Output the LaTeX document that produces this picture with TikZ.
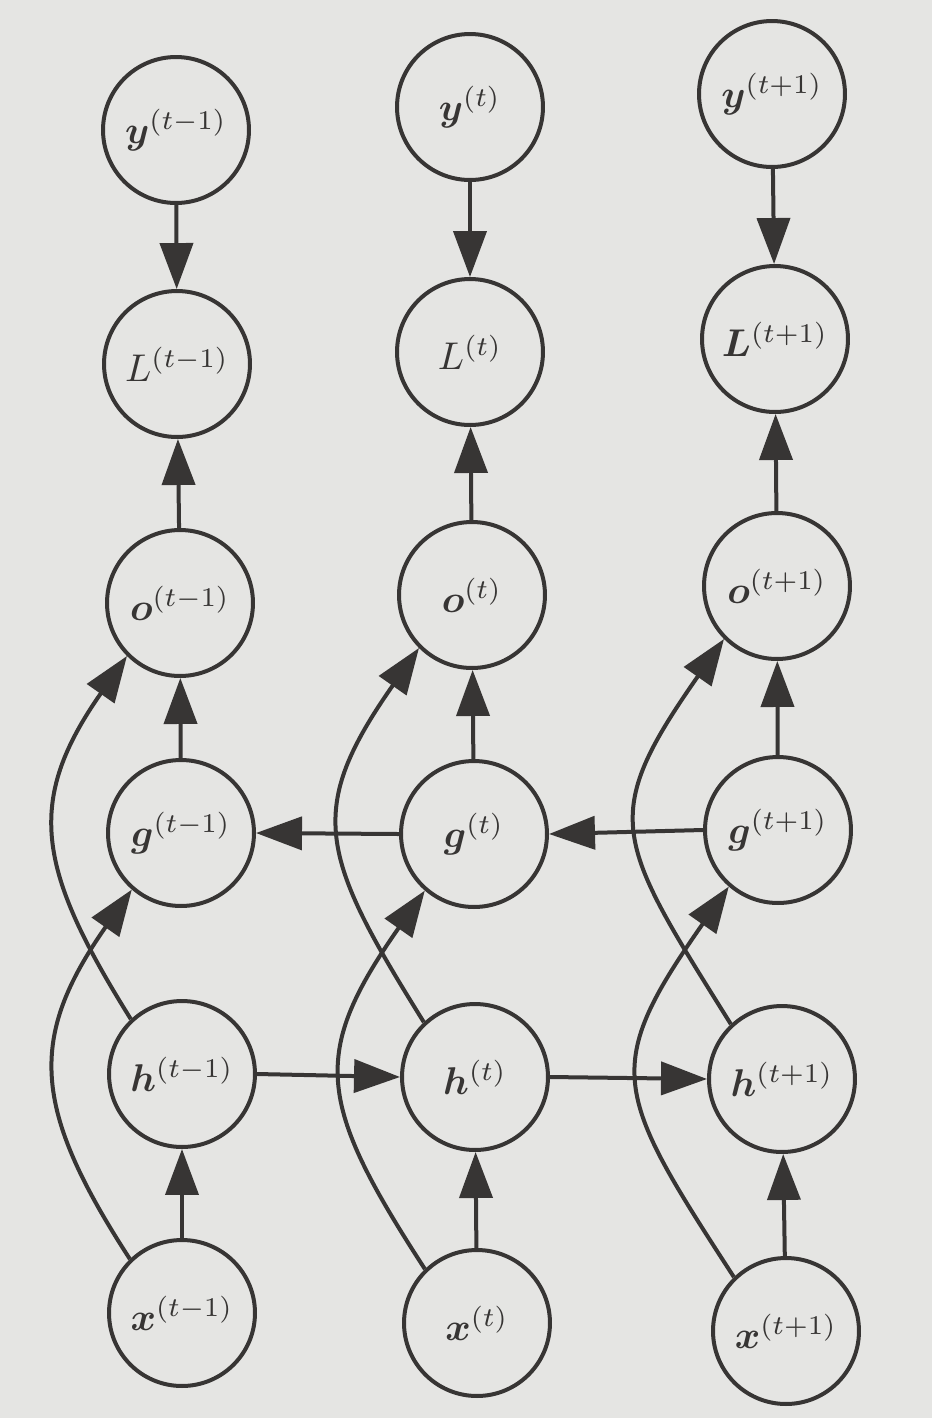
\documentclass[tikz,border=0pt]{standalone}
\usepackage{graphicx}
\usepackage{amsmath,bm}
\usetikzlibrary{arrows.meta}
\definecolor{ink}{RGB}{55,53,52}
\definecolor{paper}{RGB}{229,229,227}
\newcommand\lbl[1]{\scalebox{2.2}{$#1$}}
\begin{document}
\begin{tikzpicture}[x=0.02cm,y=0.02cm,
  unit/.style={circle,draw=ink,line width=0.08cm,minimum size=2.92cm,inner sep=0pt,text=ink},
  conn/.style={draw=ink,line width=0.08cm,-{Triangle[length=0.92cm,width=0.66cm]}}]
\fill[paper] (0,0) rectangle (932,-1418);
\useasboundingbox (0,0) rectangle (932,-1418);
% column t-1
\node[unit] (y1) at (176,-130) {\lbl{\bm{y}^{(t-1)}}};
\node[unit] (L1) at (177,-364) {\lbl{L^{(t-1)}}};
\node[unit] (o1) at (180,-603) {\lbl{\bm{o}^{(t-1)}}};
\node[unit] (g1) at (181,-833) {\lbl{\bm{g}^{(t-1)}}};
\node[unit] (h1) at (182,-1074) {\lbl{\bm{h}^{(t-1)}}};
\node[unit] (x1) at (182,-1313) {\lbl{\bm{x}^{(t-1)}}};
% column t
\node[unit] (y2) at (470,-107) {\lbl{\bm{y}^{(t)}}};
\node[unit] (L2) at (470,-352) {\lbl{L^{(t)}}};
\node[unit] (o2) at (472,-595) {\lbl{\bm{o}^{(t)}}};
\node[unit] (g2) at (474,-834) {\lbl{\bm{g}^{(t)}}};
\node[unit] (h2) at (475,-1077) {\lbl{\bm{h}^{(t)}}};
\node[unit] (x2) at (477,-1323) {\lbl{\bm{x}^{(t)}}};
% column t+1
\node[unit] (y3) at (772,-94) {\lbl{\bm{y}^{(t+1)}}};
\node[unit] (L3) at (775,-339) {\lbl{\bm{L}^{(t+1)}}};
\node[unit] (o3) at (777,-586) {\lbl{\bm{o}^{(t+1)}}};
\node[unit] (g3) at (778,-830) {\lbl{\bm{g}^{(t+1)}}};
\node[unit] (h3) at (782,-1079) {\lbl{\bm{h}^{(t+1)}}};
\node[unit] (x3) at (786,-1331) {\lbl{\bm{x}^{(t+1)}}};
% vertical arrows
\foreach \i in {1,2,3}{
  \draw[conn] (y\i) -- (L\i);
  \draw[conn] (o\i) -- (L\i);
  \draw[conn] (g\i) -- (o\i);
  \draw[conn] (x\i) -- (h\i);
}
% horizontal arrows
\draw[conn] (h1.east) -- (h2.west);
\draw[conn] (h2.east) -- (h3.west);
\draw[conn] (g2.west) -- (g1.east);
\draw[conn] (g3.west) -- (g2.east);
% curved arrows
\draw[conn] (h1.133) to[out=122,in=235,looseness=1.25] (o1.225);
\draw[conn] (x1.134) to[out=123,in=235,looseness=1.25] (g1.229);
\draw[conn] (h2.133) to[out=122,in=235,looseness=1.35] (o2.225);
\draw[conn] (x2.134) to[out=123,in=235,looseness=1.35] (g2.229);
\draw[conn] (h3.133) to[out=122,in=235,looseness=1.45] (o3.225);
\draw[conn] (x3.134) to[out=123,in=235,looseness=1.45] (g3.229);
\end{tikzpicture}
\end{document}
